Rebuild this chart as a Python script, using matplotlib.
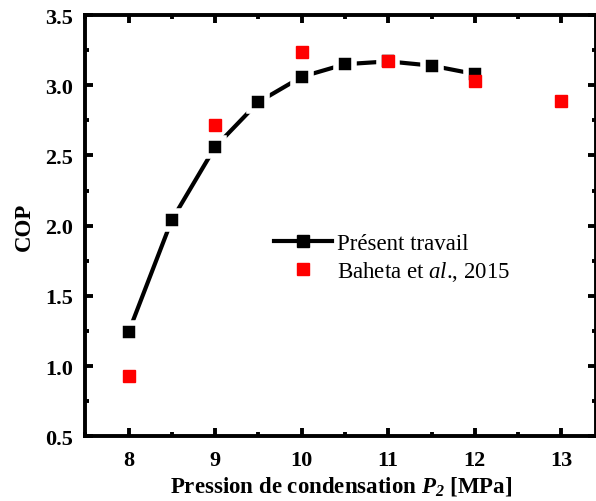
import matplotlib
matplotlib.use('Agg')
from matplotlib import pyplot as plt
from matplotlib.lines import Line2D
from matplotlib.ticker import MultipleLocator

plt.rcParams['font.family'] = ['Liberation Serif', 'DejaVu Serif']
plt.rcParams['mathtext.fontset'] = 'custom'
plt.rcParams['mathtext.it'] = 'Liberation Serif:italic'
plt.rcParams['mathtext.bfit'] = 'Liberation Serif:bold:italic'
plt.rcParams['mathtext.rm'] = 'Liberation Serif'

# COP versus condensing pressure
p_present = [8, 8.5, 9, 9.5, 10, 10.5, 11, 11.5, 12]
cop_present = [1.24, 2.04, 2.56, 2.88, 3.06, 3.15, 3.17, 3.14, 3.08]

p_baheta = [8, 9, 10, 11, 12, 13]
cop_baheta = [0.93, 2.72, 3.24, 3.17, 3.03, 2.89]

fig = plt.figure(figsize=(5.96, 5.02), dpi=100)
ax = fig.add_axes([0.143, 0.129, 0.857, 0.839])

# white marker edge leaves a small gap between the line and each square
ax.plot(p_present, cop_present, color='black', lw=3, marker='s', ms=12.6,
        mfc='black', mec='white', mew=4, zorder=2)
ax.plot(p_baheta, cop_baheta, ls='none', marker='s', ms=8, color='red',
        mec='red', mew=1, zorder=3)

ax.set_xlim(7.5, 13.4)
ax.set_ylim(0.5, 3.5)
ax.xaxis.set_major_locator(MultipleLocator(1))
ax.xaxis.set_minor_locator(MultipleLocator(0.5))
ax.yaxis.set_major_locator(MultipleLocator(0.5))
ax.yaxis.set_minor_locator(MultipleLocator(0.25))

for s in ax.spines.values():
    s.set_linewidth(2.8)
ax.tick_params(which='both', direction='in', top=True, right=True, width=2.8)
ax.tick_params(which='major', length=6, labelsize=16)
ax.tick_params(which='minor', length=3)
ax.tick_params(axis='x', which='major', pad=10)
ax.tick_params(axis='y', which='major', pad=9)
for lab in ax.get_xticklabels() + ax.get_yticklabels():
    lab.set_fontweight('bold')

ax.set_xlabel('Pression de condensation $\\mathbfit{P}_{\\mathbfit{2}}$ [MPa]',
              fontsize=16.5, fontweight='bold', labelpad=3)
ax.set_ylabel('COP', fontsize=16.5, fontweight='bold', labelpad=7)

handles = [
    Line2D([], [], color='black', lw=3, marker='s', ms=8.6, mfc='black',
           mec='black'),
    Line2D([], [], ls='none', marker='s', ms=8, color='red', mec='red', mew=1),
]
labels = ['Présent travail', 'Baheta et $\\mathit{al}$., 2015']
ax.legend(handles, labels, loc='upper left', bbox_to_anchor=(0.37, 0.482),
          frameon=False, fontsize=16.5, handlelength=2.5, handletextpad=0.25,
          labelspacing=0.2, borderpad=0, borderaxespad=0)

fig.savefig('out.png', dpi=100)
